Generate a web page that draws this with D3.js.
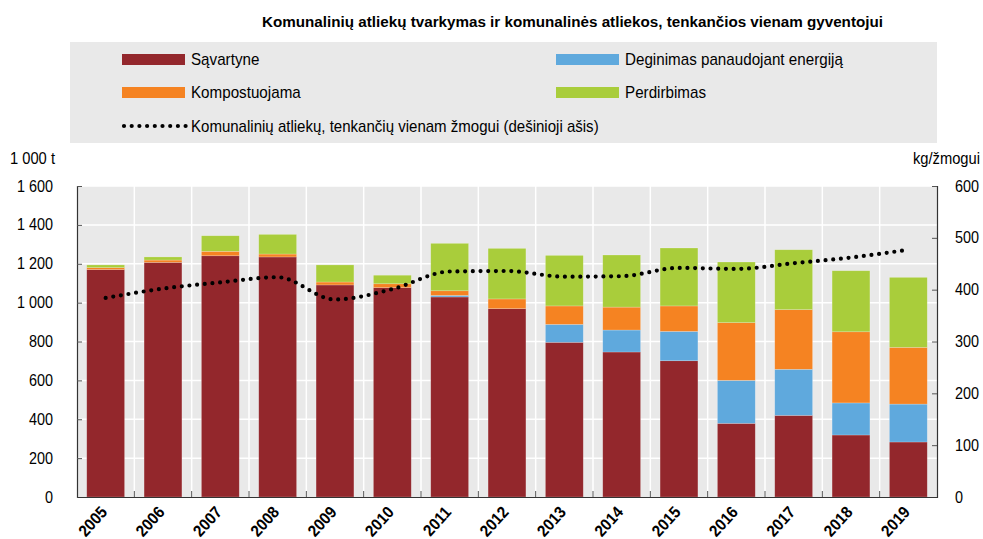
<!DOCTYPE html>
<html>
<head>
<meta charset="utf-8">
<script src="https://cdn.jsdelivr.net/npm/d3@7/dist/d3.min.js"></script>
<style>
body { margin:0; background:#fff; }
text { font-family: "Liberation Sans", Arial, sans-serif; }
</style>
</head>
<body>
<div id="chart"></div>
<script>

// data (1000 t, kg per person)
var years = ["2005","2006","2007","2008","2009","2010","2011","2012","2013","2014","2015","2016","2017","2018","2019"]
var savartyne   = [1170,1207,1241,1235,1091,1077,1029, 969, 796, 746, 701, 379, 420, 319, 283]
var deginimas   = [   0,   0,   0,   0,   0,   0,   8,   0,  92, 113, 151, 221, 237, 165, 195]
var kompost     = [  10,  12,  23,  15,  15,  20,  24,  50,  95, 118, 131, 297, 307, 366, 292]
var perdirbimas = [  14,  16,  80, 101,  88,  44, 244, 260, 260, 268, 298, 312, 308, 314, 360]
var perCapita   = [ 384, 402, 414, 424, 381, 401, 435, 436, 425, 426, 442, 440, 451, 462, 477]

var leftTicks  = [0,200,400,600,800,1000,1200,1400,1600]
var rightTicks = [0,100,200,300,400,500,600]

var seriesKeys   = ["savartyne","deginimas","kompost","perdirbimas"]
var seriesNames  = ["Sąvartyne","Deginimas panaudojant energiją","Kompostuojama","Perdirbimas"]
var seriesColors = {savartyne:"#93272c", deginimas:"#5fa9dd", kompost:"#f58322", perdirbimas:"#a9cd3b"}

var W = 983, H = 539
var plot = {left:77, right:937, top:186, bottom:497}

var svg = d3.select("#chart").append("svg")
            .attr("width", W)
            .attr("height", H)

// no narrow font installed: squeeze the text a bit instead
function narrow(sel, s)
{
	sel.each(function(){
		var x = +this.getAttribute("x") || 0
		var t = this.getAttribute("transform") || ""
		this.setAttribute("x", x/s)
		this.setAttribute("transform", t + " scale(" + s + ",1)")
	})
}

var rows = years.map(function(y,i){
	return {year:y, savartyne:savartyne[i], deginimas:deginimas[i], kompost:kompost[i], perdirbimas:perdirbimas[i]}
})

var xScale = d3.scaleBand().domain(years).range([plot.left, plot.right]).paddingInner(0.34).paddingOuter(0.17)
var yScale = d3.scaleLinear().domain([0,1600]).range([plot.bottom, plot.top])
var y2Scale = d3.scaleLinear().domain([0,600]).range([plot.bottom, plot.top])

var fmt = function(d){ return d3.format(",")(d).replace(/,/g, " ") }

// title
svg.append("text")
   .attr("x", 262)
   .attr("y", 27)
   .attr("textLength", 621)
   .attr("lengthAdjust", "spacingAndGlyphs")
   .style("font-weight", "bold")
   .style("font-size", "14.5px")
   .text("Komunalinių atliekų tvarkymas ir komunalinės atliekos, tenkančios vienam gyventojui")

// legend box
svg.append("rect")
   .attr("x", 70).attr("y", 42)
   .attr("width", 867).attr("height", 101)
   .attr("fill", "#e9e9e9")

var legendItems = [
	{key:"savartyne", x:122, y:59},
	{key:"kompost", x:122, y:92},
	{key:"deginimas", x:556, y:59},
	{key:"perdirbimas", x:556, y:92}
]
legendItems.forEach(function(it){
	svg.append("rect")
	   .attr("x", it.x).attr("y", it.y-5)
	   .attr("width", 63).attr("height", 11)
	   .attr("fill", seriesColors[it.key])
	svg.append("text")
	   .attr("x", it.x+69).attr("y", it.y+6)
	   .style("font-size", "16px")
	   .text(seriesNames[seriesKeys.indexOf(it.key)])
	   .call(narrow, 0.95)
})
svg.append("line")
   .attr("x1", 124).attr("x2", 186)
   .attr("y1", 126).attr("y2", 126)
   .attr("stroke", "#000")
   .attr("stroke-width", 4.2)
   .attr("stroke-linecap", "round")
   .attr("stroke-dasharray", "0,7.7")
svg.append("text")
   .attr("x", 191).attr("y", 132)
   .style("font-size", "16px")
   .text("Komunalinių atliekų, tenkančių vienam žmogui (dešinioji ašis)")
   .call(narrow, 0.94)

// plot background + grid
svg.append("rect")
   .attr("x", plot.left).attr("y", plot.top)
   .attr("width", plot.right-plot.left).attr("height", plot.bottom-plot.top)
   .attr("fill", "#e9e9e9")

svg.append("g").selectAll("line")
   .data(leftTicks.slice(1))
   .enter().append("line")
   .attr("x1", plot.left).attr("x2", plot.right)
   .attr("y1", function(d){return yScale(d)})
   .attr("y2", function(d){return yScale(d)})
   .attr("stroke", "#fff")
   .attr("stroke-width", 1.5)

var bounds = years.slice(1).map(function(y){ return xScale(y) - xScale.step()*xScale.paddingInner()/2 })
svg.append("g").selectAll("line")
   .data(bounds)
   .enter().append("line")
   .attr("x1", function(d){return d}).attr("x2", function(d){return d})
   .attr("y1", plot.top).attr("y2", plot.bottom)
   .attr("stroke", "#fff")
   .attr("stroke-width", 1.5)

// stacked bars
var stack = d3.stack().keys(seriesKeys)
var layers = stack(rows)

svg.append("g").selectAll("g")
   .data(layers)
   .enter().append("g")
   .attr("fill", function(d){return seriesColors[d.key]})
   .selectAll("rect")
   .data(function(d){return d})
   .enter().append("rect")
   .attr("x", function(d){return xScale(d.data.year)})
   .attr("width", xScale.bandwidth())
   .attr("y", function(d){return yScale(d[1])})
   .attr("height", function(d){return yScale(d[0]) - yScale(d[1])})
   .attr("stroke", "rgba(255,255,255,0.35)")
   .attr("stroke-width", 0.6)

// per capita dotted line
var line = d3.line()
             .x(function(d,i){return xScale(years[i]) + xScale.bandwidth()/2})
             .y(function(d){return y2Scale(d)})
             .curve(d3.curveMonotoneX)

svg.append("path")
   .datum(perCapita)
   .attr("d", line)
   .attr("fill", "none")
   .attr("stroke", "#000")
   .attr("stroke-width", 4.2)
   .attr("stroke-linecap", "round")
   .attr("stroke-dasharray", "0,7.7")

// axes
var axisL = d3.axisLeft(yScale).tickValues(leftTicks).tickSize(-5).tickPadding(24).tickFormat(fmt)
var axisR = d3.axisRight(y2Scale).tickValues(rightTicks).tickSize(-5).tickPadding(18)
var axisB = d3.axisBottom(xScale).tickSize(0).tickFormat("")

var gL = svg.append("g").attr("transform", "translate(" + plot.left + ",0)").call(axisL)
var gR = svg.append("g").attr("transform", "translate(" + plot.right + ",0)").call(axisR)
var gB = svg.append("g").attr("transform", "translate(0," + plot.bottom + ")").call(axisB)

;[gL, gR, gB].forEach(function(g){
	g.select(".domain").attr("stroke", "#333").attr("stroke-width", 1.2)
	g.selectAll(".tick line").attr("stroke", "#555")
	g.selectAll("text").style("font-size", "16px").attr("fill", "#000")
	    .style("font-family", "'Liberation Sans', Arial, sans-serif")
	    .call(narrow, 0.9)
})

// bottom ticks at band boundaries
svg.append("g").selectAll("line")
   .data(bounds)
   .enter().append("line")
   .attr("x1", function(d){return d}).attr("x2", function(d){return d})
   .attr("y1", plot.bottom-6).attr("y2", plot.bottom)
   .attr("stroke", "#555")

// year labels
svg.append("g").selectAll("text")
   .data(years)
   .enter().append("text")
   .attr("transform", function(d){ return "translate(" + (xScale(d) + xScale.bandwidth()/2 - 6) + "," + (plot.bottom + 8) + ") rotate(-48)" })
   .attr("text-anchor", "end")
   .attr("dy", "0.7em")
   .style("font-weight", "bold")
   .style("font-size", "16.5px")
   .text(function(d){return d})
   .call(narrow, 0.92)

// axis units
svg.append("text").attr("x", 10).attr("y", 164).style("font-size", "16px").text("1 000 t").call(narrow, 0.92)
svg.append("text").attr("x", 980).attr("y", 164).attr("text-anchor", "end").style("font-size", "16px").text("kg/žmogui").call(narrow, 0.92)

</script>
</body>
</html>
